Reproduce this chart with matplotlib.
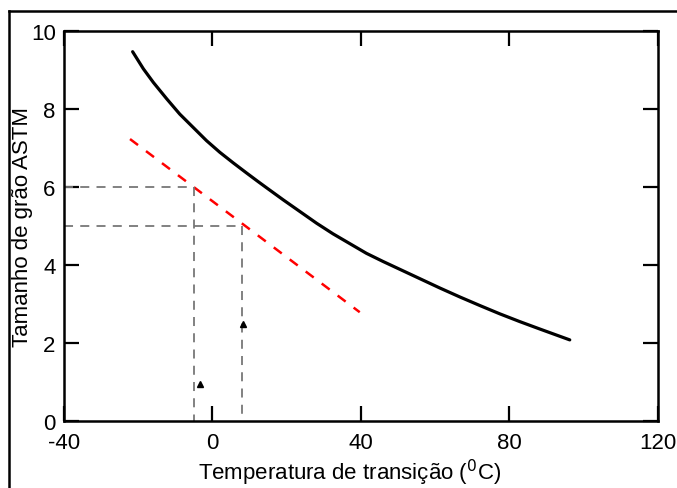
import matplotlib.pyplot as plt
from matplotlib.lines import Line2D

plt.rcParams['font.family'] = ['Liberation Sans', 'DejaVu Sans']
plt.rcParams['axes.unicode_minus'] = False

# curva principal (tamanho de grão vs temperatura de transição)
curve_x = [-21.5, -18.6, -15.9, -12.3, -8.8, -5.2, -1.6, 2.0, 5.6, 9.2, 12.3,
           14.6, 19.1, 23.6, 28.1, 32.5, 37.0, 41.5, 46.0, 52.3, 55.9, 61.3,
           66.7, 72.1, 77.4, 82.8, 88.2, 96.3]
curve_y = [9.47, 9.03, 8.68, 8.26, 7.87, 7.53, 7.19, 6.89, 6.62, 6.36, 6.14,
           5.98, 5.67, 5.37, 5.07, 4.80, 4.55, 4.30, 4.09, 3.81, 3.65, 3.41,
           3.18, 2.96, 2.75, 2.55, 2.36, 2.08]

# reta tracejada vermelha
red_x = [-22.2, 39.7]
red_y = [7.23, 2.79]

# linhas de leitura (tamanho de grão 6 e 5)
read_y = [6, 5]
read_x = [-5, 8]

# pequenas marcas triangulares
tri_x = [-3.4, 8.2]
tri_y = [0.95, 2.49]

xticks = [-40, 0, 40, 80, 120]
yticks = [0, 2, 4, 6, 8, 10]

fig = plt.figure(figsize=(6.77, 4.89), dpi=100)
ax = fig.add_axes([0.0945, 0.137, 0.877, 0.7975])

ax.plot(curve_x, curve_y, color='black', lw=2.3, solid_capstyle='round',
        solid_joinstyle='round')
ax.plot(red_x, red_y, color='red', lw=1.8, dashes=(4, 4))

for xv, yv in zip(read_x, read_y):
    ax.plot([-40, xv], [yv, yv], color='#777777', lw=1.3, dashes=(5, 4))
    ax.plot([xv, xv], [yv, 0], color='#777777', lw=1.3, dashes=(5, 4))

ax.plot(tri_x, tri_y, linestyle='none', marker='^', ms=4, color='black')

ax.set_xlim(-40, 120)
ax.set_ylim(0, 10)
ax.set_xticks(xticks)
ax.set_yticks(yticks)
ax.tick_params(direction='in', length=11, width=1.6, labelsize=16,
               top=True, right=True)
ax.tick_params(axis='x', pad=8)
ax.tick_params(axis='y', pad=6)
for s in ax.spines.values():
    s.set_linewidth(1.8)

ax.set_xlabel('Temperatura de transição ($^{0}$C)', fontsize=16)
ax.set_ylabel('Tamanho de grão ASTM', fontsize=16)
ax.xaxis.set_label_coords(0.481, -0.092)
ax.yaxis.set_label_coords(-0.052, 0.5)

# moldura externa
fig.add_artist(Line2D([9/677, 9/677], [0, 1 - 12/489], color='black', lw=1.8,
                      transform=fig.transFigure))
fig.add_artist(Line2D([9/677, 1], [1 - 12/489, 1 - 12/489], color='black', lw=1.8,
                      transform=fig.transFigure))

fig.savefig('out.png', dpi=100)
